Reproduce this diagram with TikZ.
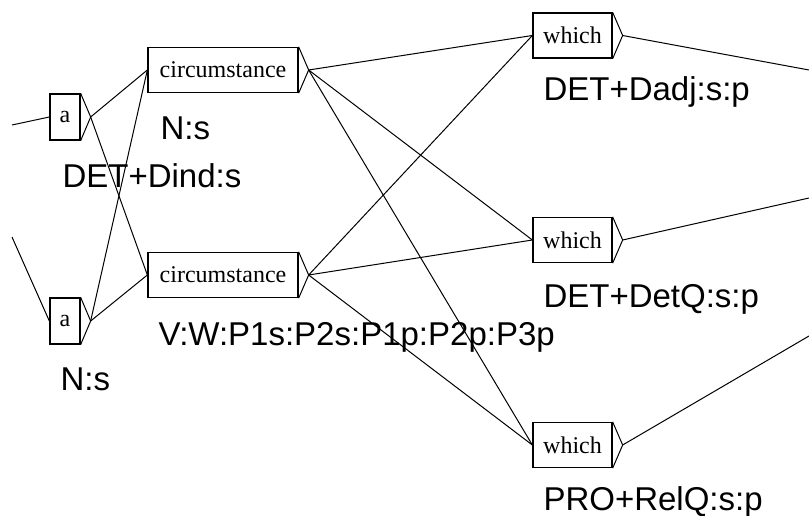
\documentclass[tikz,border=0pt]{standalone}
\usepackage{fontspec}
\setmainfont{Liberation Serif}
\setsansfont{Liberation Sans}
\begin{document}
\begin{tikzpicture}[x=1pt, y=-1pt, line width=1pt,
  box/.style={draw, line width=1.3pt, inner sep=0pt, minimum height=45pt, font=\fontsize{24}{28}\selectfont},
  outlabel/.style={anchor=base west, inner sep=0pt, font=\sffamily\fontsize{33}{38}\selectfont}]
\useasboundingbox (0,0) rectangle (809,516);
\clip (0,0) rectangle (809,516);
\node[box, minimum width=30pt, minimum height=46pt] (a1) at (65,117) {a};
\node[box, minimum width=30pt, minimum height=46pt] (a2) at (65,321) {a};
\node[box, minimum width=150pt] (c1) at (223,70) {circumstance};
\node[box, minimum width=150pt] (c2) at (223,275) {circumstance};
\node[box, minimum width=79pt] (w1) at (572.5,35.5) {which};
\node[box, minimum width=79pt] (w2) at (572.5,240) {which};
\node[box, minimum width=79pt] (w3) at (572.5,445) {which};
\foreach \b in {a1,a2,c1,c2,w1,w2,w3}
  \draw (\b.north east) -- ([xshift=10pt]\b.east) coordinate (\b o) -- (\b.south east);
\coordinate (in1) at (12,125);
\coordinate (in2) at (12,237);
\coordinate (out1) at (809,70);
\coordinate (out2) at (809,198);
\coordinate (out3) at (809,336);
\draw (in1) -- (a1.west);
\draw (in2) -- (a2.west);
\foreach \s in {a1o,a2o}
  \foreach \t in {c1,c2}
    \draw (\s) -- (\t.west);
\foreach \s in {c1o,c2o}
  \foreach \t in {w1,w2,w3}
    \draw (\s) -- (\t.west);
\draw (w1o) -- (out1);
\draw (w2o) -- (out2);
\draw (w3o) -- (out3);
\node[outlabel] (l1) at (160,140) {N:s};
\node[outlabel] (l2) at (62,187) {DET+Dind:s};
\node[outlabel] (l3) at (158,345) {V:W:P1s:P2s:P1p:P2p:P3p};
\node[outlabel] (l4) at (60,390) {N:s};
\node[outlabel] (l5) at (543,101) {DET+Dadj:s:p};
\node[outlabel] (l6) at (543,307) {DET+DetQ:s:p};
\node[outlabel] (l7) at (543,510) {PRO+RelQ:s:p};
\end{tikzpicture}
\end{document}
